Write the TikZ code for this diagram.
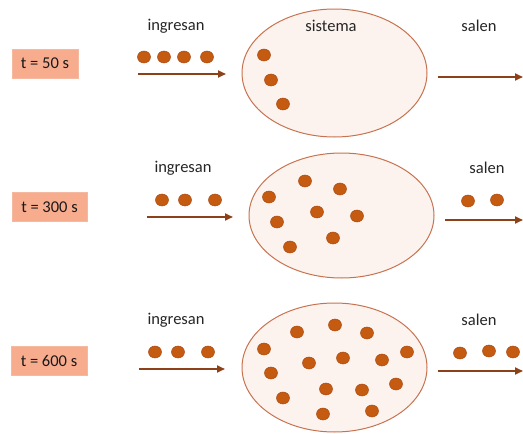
\documentclass[tikz,border=0pt]{standalone}
\usepackage{fontspec}
\setmainfont{Carlito}
\usetikzlibrary{shapes.geometric,arrows.meta}
\definecolor{dotfill}{RGB}{197,90,17}
\definecolor{dotline}{RGB}{170,75,20}
\definecolor{flow}{RGB}{140,65,25}
\definecolor{sysfill}{RGB}{253,243,238}
\definecolor{sysline}{RGB}{200,115,80}
\definecolor{tagfill}{RGB}{248,172,142}
\definecolor{tagline}{RGB}{244,185,160}
\begin{document}
\begin{tikzpicture}[x=1pt,y=-1pt,
  particle/.style={ellipse,fill=dotfill,draw=dotline,line width=0.5pt,minimum width=13pt,minimum height=12pt,inner sep=0pt},
  system/.style={ellipse,fill=sysfill,draw=sysline,line width=1pt,minimum width=185pt,minimum height=128pt,inner sep=0pt},
  timetag/.style={rectangle,fill=tagfill,draw=tagline,line width=0.6pt,minimum height=29pt,inner xsep=0pt,font=\fontsize{16.5}{19}\selectfont,text=black!90},
  caption/.style={font=\fontsize{16.5}{19}\selectfont,text=black!85},
  flowarrow/.style={draw=flow,line width=1.8pt,-{Triangle[length=8pt,width=7pt]}}]
\useasboundingbox (0,0) rectangle (523,434);

% ---- t = 50 s ----
\node[timetag,minimum width=66pt] (tag1) at (45,63.5) {t = 50 s};
\node[caption] (in1) at (176,26) {ingresan};
\node[system] (sys1) at (334.5,73) {};
\node[caption] (syslabel) at (331,26) {sistema};
\node[caption] (out1) at (479,26) {salen};
\foreach \x [count=\i] in {144,164,184,207} \node[particle] (a\i) at (\x,57) {};
\foreach \x/\y [count=\i] in {264/55,271/80,283/104} \node[particle] (b\i) at (\x,\y) {};
\coordinate (in1s) at (138,74);  \coordinate (in1e) at (226,74);
\coordinate (out1s) at (438,77); \coordinate (out1e) at (523,77);
\draw[flowarrow] (in1s) -- (in1e);
\draw[flowarrow] (out1s) -- (out1e);

% ---- t = 300 s ----
\node[timetag,minimum width=75pt] (tag2) at (49.5,207) {t = 300 s};
\node[caption] (in2) at (183,168) {ingresan};
\node[system,minimum height=125pt] (sys2) at (341.5,215.5) {};
\node[caption] (out2) at (487,168) {salen};
\foreach \x [count=\i] in {162,185,215} \node[particle] (c\i) at (\x,200) {};
\foreach \x/\y [count=\i] in {269/197,305/181,340/189,277/222,317/212,357/216,290/247,333/238}
  \node[particle] (d\i) at (\x,\y) {};
\foreach \x/\y [count=\i] in {468/201,497/200} \node[particle] (e\i) at (\x,\y) {};
\coordinate (in2s) at (147,217);  \coordinate (in2e) at (233,217);
\coordinate (out2s) at (445,220); \coordinate (out2e) at (523,220);
\draw[flowarrow] (in2s) -- (in2e);
\draw[flowarrow] (out2s) -- (out2e);

% ---- t = 600 s ----
\node[timetag,minimum width=76pt] (tag3) at (49,360.5) {t = 600 s};
\node[caption] (in3) at (176,320) {ingresan};
\node[system,minimum height=129pt] (sys3) at (334.5,367.5) {};
\node[caption] (out3) at (479,320) {salen};
\foreach \x [count=\i] in {155,178,208} \node[particle] (f\i) at (\x,352) {};
\foreach \x/\y [count=\i] in {335/325,297/332,367/333,264/349,407/352,309/363,343/358,382/360,
    271/373,396/384,326/389,362/390,283/398,323/414,372/411}
  \node[particle] (g\i) at (\x,\y) {};
\foreach \x/\y [count=\i] in {460/353,489/351,513/352} \node[particle] (h\i) at (\x,\y) {};
\coordinate (in3s) at (139,369);  \coordinate (in3e) at (225,369);
\coordinate (out3s) at (438,371); \coordinate (out3e) at (523,371);
\draw[flowarrow] (in3s) -- (in3e);
\draw[flowarrow] (out3s) -- (out3e);
\end{tikzpicture}
\end{document}
